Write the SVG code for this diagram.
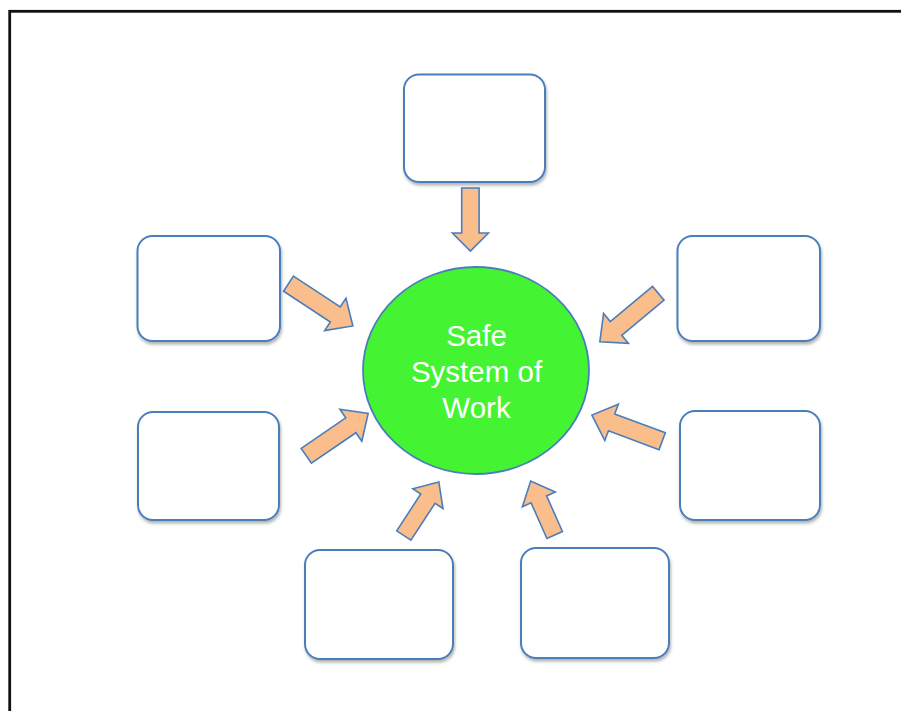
<svg xmlns="http://www.w3.org/2000/svg" width="901" height="711" viewBox="0 0 901 711">
  <defs>
    <style>
      .box { fill: #ffffff; stroke: #4a7ebb; stroke-width: 2; filter: url(#shadow); }
      .arrow { fill: #f9be8c; stroke: #4a7ebb; stroke-width: 1.6; stroke-linejoin: miter; }
      .label { font-family: "Liberation Sans", Arial, sans-serif; font-size: 29.5px; fill: #ffffff; text-anchor: middle; }
    </style>
    <filter id="shadow" x="-10%" y="-10%" width="130%" height="130%">
      <feDropShadow dx="1" dy="2.5" stdDeviation="1.5" flood-color="#000000" flood-opacity="0.3"/>
    </filter>
    <path id="arrowShape" d="M0,-8.8 L-20,-8.8 L-20,-18.5 L0,0 L-20,18.5 L-20,8.8 L0,8.8 Z"/>
  </defs>
  <rect x="0" y="0" width="901" height="711" fill="#ffffff"/>
  <rect x="9.7" y="11.3" width="1000" height="1000" fill="none" stroke="#111111" stroke-width="2.8"/>

  <g id="connectors">
    <!-- each arrow: tail at origin, pointing along +x, length L -->
    <path class="arrow" transform="translate(470.4,188) rotate(90)" d="M0,-8.7 L45,-8.7 L45,-18 L63,0 L45,18 L45,8.7 L0,8.7 Z"/>
    <path class="arrow" transform="translate(288.5,283.7) rotate(33.3)" d="M0,-9 L56,-9 L56,-19.4 L77,0 L56,19.4 L56,9 L0,9 Z"/>
    <path class="arrow" transform="translate(658.3,293.3) rotate(140.3)" d="M0,-9 L55,-9 L55,-19.4 L76,0 L55,19.4 L55,9 L0,9 Z"/>
    <path class="arrow" transform="translate(306.3,455.8) rotate(-34.4)" d="M0,-9 L54,-9 L54,-19.4 L75,0 L54,19.4 L54,9 L0,9 Z"/>
    <path class="arrow" transform="translate(662.2,441.2) rotate(-159.6)" d="M0,-9 L54,-9 L54,-19.4 L75,0 L54,19.4 L54,9 L0,9 Z"/>
    <path class="arrow" transform="translate(403.8,535.5) rotate(-56.8)" d="M0,-8.5 L44,-8.5 L44,-18 L64,0 L44,18 L44,8.5 L0,8.5 Z"/>
    <path class="arrow" transform="translate(554.7,535) rotate(-114)" d="M0,-8.5 L39,-8.5 L39,-18 L59,0 L39,18 L39,8.5 L0,8.5 Z"/>
  </g>

  <g id="node-top"><rect class="box" x="404" y="74.5" width="141" height="107.5" rx="15"/></g>
  <g id="node-upper-left"><rect class="box" x="137.5" y="236" width="142.5" height="105" rx="15"/></g>
  <g id="node-upper-right"><rect class="box" x="677.5" y="236" width="142.5" height="105" rx="15"/></g>
  <g id="node-lower-left"><rect class="box" x="138" y="412" width="141" height="108" rx="15"/></g>
  <g id="node-lower-right"><rect class="box" x="680" y="411" width="140" height="109" rx="15"/></g>
  <g id="node-bottom-left"><rect class="box" x="305" y="550" width="148" height="109" rx="15"/></g>
  <g id="node-bottom-right"><rect class="box" x="521" y="548" width="148" height="110" rx="15"/></g>

  <g id="node-center">
    <ellipse cx="476" cy="370.5" rx="113" ry="103.5" fill="#44f432" stroke="#4a7ebb" stroke-width="1.8"/>
    <text class="label" x="476.5" y="345.7">Safe</text>
    <text class="label" x="476.5" y="381.7">System of</text>
    <text class="label" x="476.5" y="418.3">Work</text>
  </g>
</svg>
